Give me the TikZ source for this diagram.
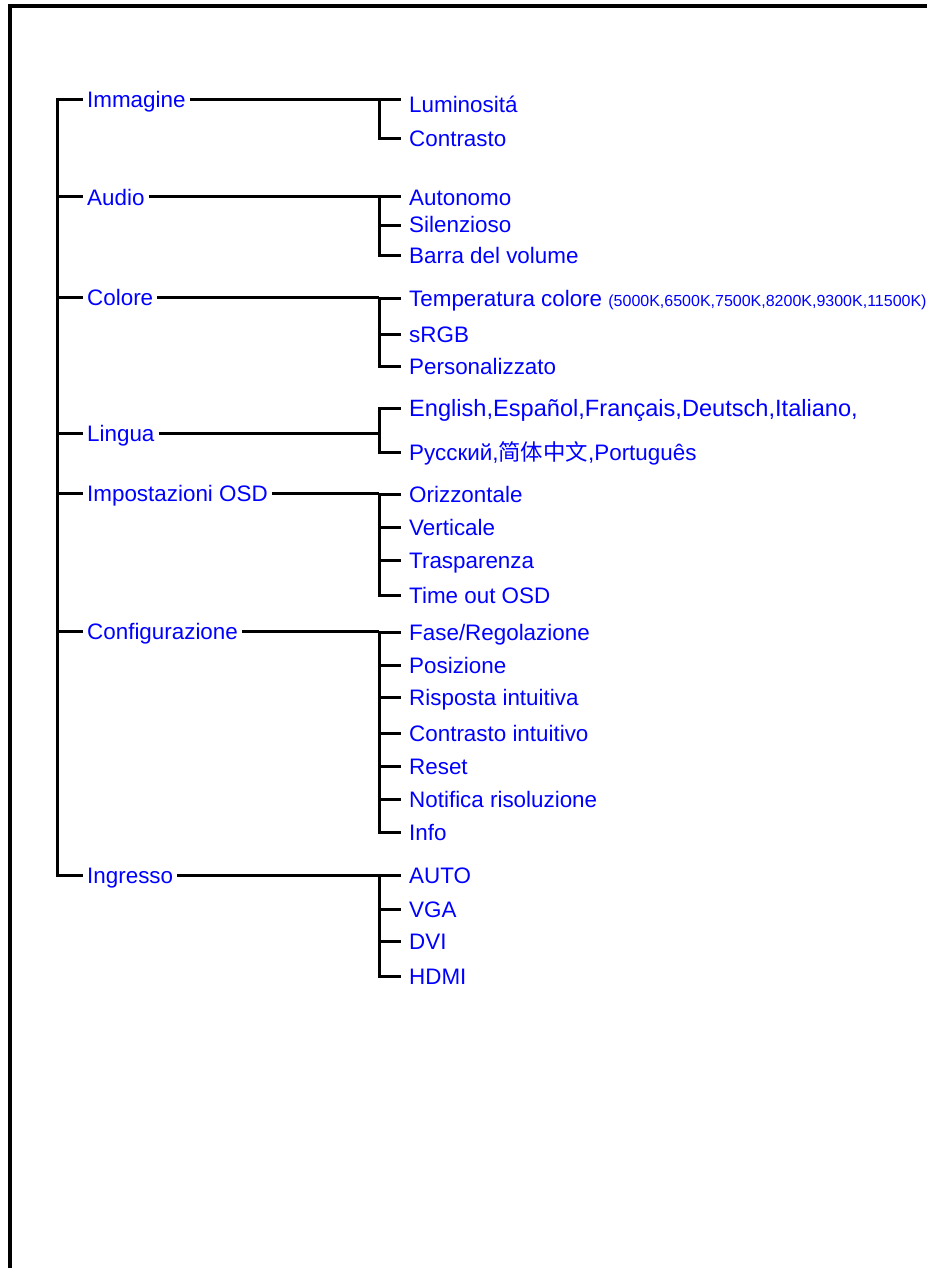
\documentclass[tikz,border=0pt]{standalone}
\usepackage{fontspec}
\setmainfont{Liberation Sans}
\newfontfamily\cjk{Noto Sans CJK SC}
\begin{document}
\begin{tikzpicture}[x=1pt,y=-1pt,
  ln/.style={line width=3pt},
  lab/.style={anchor=west, inner ysep=0pt, text height=16pt, text depth=0pt,
              font=\fontsize{22.4}{26}\selectfont, text=blue},
  rootlab/.style={lab, inner xsep=4pt},
  kid/.style={lab, inner xsep=8pt}]
\useasboundingbox (0,0) rectangle (927,1268);
\fill[white] (0,0) rectangle (927,1268);
% frame
\draw[line width=3.2pt] (10,1268) -- (10,6) -- (927,6);

% root labels
\node[rootlab] (imm) at (83,100) {Immagine};
\node[rootlab] (aud) at (83,197) {Audio};
\node[rootlab] (col) at (83,297) {Colore};
\node[rootlab] (lin) at (83,433) {Lingua};
\node[rootlab] (osd) at (83,493) {Impostazioni OSD};
\node[rootlab] (cfg) at (83,631) {Configurazione};
\node[rootlab] (ing) at (83,875) {Ingresso};

% trunk
\coordinate (ttop) at (57,100);
\coordinate (tbot) at (57,875);
\draw[ln] (imm.west) -- (ttop) -- (tbot) -- (ing.west);
\foreach \n in {aud,col,lin,osd,cfg}{
  \draw[ln] (\n.west) -- (\n.west -| ttop);
}

% children
\node[kid] (lum) at (401,105) {Luminositá};
\node[kid] (con) at (401,139) {Contrasto};
\node[kid] (aut) at (401,197) {Autonomo};
\node[kid] (sil) at (401,225) {Silenzioso};
\node[kid] (bar) at (401,255) {Barra del volume};
\node[kid] (tem) at (401,298) {Temperatura colore {\fontsize{16}{18}\selectfont(5000K,6500K,7500K,8200K,9300K,11500K)}};
\node[kid] (srg) at (401,334) {sRGB};
\node[kid] (per) at (401,366) {Personalizzato};
\node[kid] (eng) at (401,408) {\fontsize{23.6}{26}\selectfont English,Español,Français,Deutsch,Italiano,};
\node[kid] (rus) at (401,452) {Русский,{\cjk 简体中文},Português};
\node[kid] (ori) at (401,494) {Orizzontale};
\node[kid] (ver) at (401,527) {Verticale};
\node[kid] (tra) at (401,560) {Trasparenza};
\node[kid] (tim) at (401,595) {Time out OSD};
\node[kid] (fas) at (401,632) {Fase/Regolazione};
\node[kid] (pos) at (401,665) {Posizione};
\node[kid] (ris) at (401,697) {Risposta intuitiva};
\node[kid] (cin) at (401,733) {Contrasto intuitivo};
\node[kid] (res) at (401,766) {Reset};
\node[kid] (not) at (401,799) {Notifica risoluzione};
\node[kid] (inf) at (401,832) {Info};
\node[kid] (aut2) at (401,875) {AUTO};
\node[kid] (vga) at (401,909) {VGA};
\node[kid] (dvi) at (401,941) {DVI};
\node[kid] (hdm) at (401,976) {HDMI};

% sub-trunks
\coordinate (s) at (379,0);
% Immagine
\coordinate (imj) at (imm.east -| s);
\draw[ln] (imm.east) -- (imj) -- (imj -| lum.west);
\draw[ln] (imj) -- (con.west -| s) -- (con.west);
% Audio
\draw[ln] (aud.east) -- (aud.east -| s);
\draw[ln] (aut.west) -- (aut.west -| s) -- (bar.west -| s) -- (bar.west);
\draw[ln] (sil.west -| s) -- (sil.west);
% Colore
\draw[ln] (col.east) -- (col.east -| s);
\draw[ln] (tem.west) -- (tem.west -| s) -- (per.west -| s) -- (per.west);
\draw[ln] (srg.west -| s) -- (srg.west);
% Lingua
\draw[ln] (lin.east) -- (lin.east -| s);
\draw[ln] (eng.west) -- (eng.west -| s) -- (rus.west -| s) -- (rus.west);
% OSD
\draw[ln] (osd.east) -- (osd.east -| s);
\draw[ln] (ori.west) -- (ori.west -| s) -- (tim.west -| s) -- (tim.west);
\foreach \n in {ver,tra}{\draw[ln] (\n.west -| s) -- (\n.west);}
% Configurazione
\draw[ln] (cfg.east) -- (cfg.east -| s);
\draw[ln] (fas.west) -- (fas.west -| s) -- (inf.west -| s) -- (inf.west);
\foreach \n in {pos,ris,cin,res,not}{\draw[ln] (\n.west -| s) -- (\n.west);}
% Ingresso
\draw[ln] (ing.east) -- (ing.east -| s);
\draw[ln] (aut2.west) -- (aut2.west -| s) -- (hdm.west -| s) -- (hdm.west);
\foreach \n in {vga,dvi}{\draw[ln] (\n.west -| s) -- (\n.west);}
\end{tikzpicture}
\end{document}
